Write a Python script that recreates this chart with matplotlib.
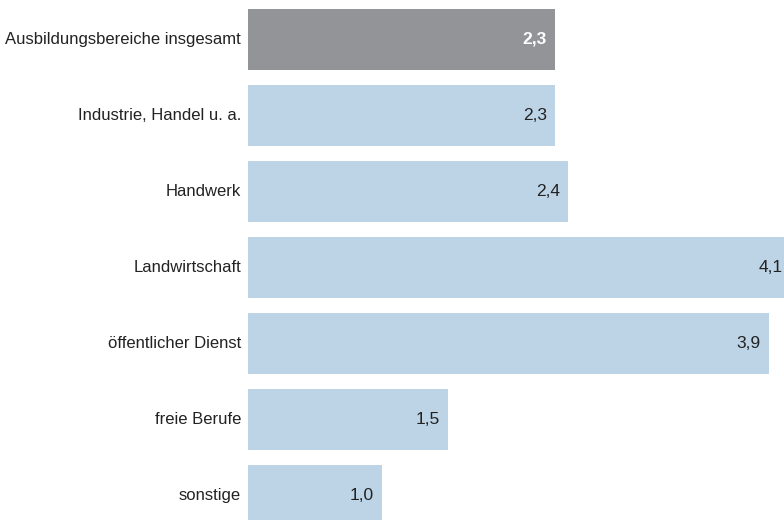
import matplotlib
matplotlib.use("Agg")
import matplotlib.pyplot as plt

# data
categories = [
    "Ausbildungsbereiche insgesamt",
    "Industrie, Handel u. a.",
    "Handwerk",
    "Landwirtschaft",
    "öffentlicher Dienst",
    "freie Berufe",
    "sonstige",
]
values = [2.3, 2.3, 2.4, 4.1, 3.9, 1.5, 1.0]
value_labels = ["2,3", "2,3", "2,4", "4,1", "3,9", "1,5", "1,0"]

plt.rcParams["font.family"] = ["Liberation Sans", "DejaVu Sans"]

W, H = 784, 520
fig = plt.figure(figsize=(W / 100, H / 100), dpi=100)
ax = fig.add_axes([248 / W, 0, 1 - 248 / W, 1])

px_per_unit = 133.5
colors = ["#939498"] + ["#bdd4e7"] * (len(values) - 1)
pos = list(range(len(values)))
ax.barh(pos, values, height=61 / 76, color=colors, align="center")

xmax = (W - 248) / px_per_unit
ax.set_xlim(0, xmax)
top = -0.4 - 9 / 76
ax.set_ylim(top + H / 76, top)
ax.axis("off")

offset = 8 / px_per_unit
for i, (v, lab, cat) in enumerate(zip(values, value_labels, categories)):
    first = i == 0
    # keep the label inside the figure when the bar runs past the edge
    x_lab = min(v - offset, xmax - 1.5 / px_per_unit)
    ax.text(x_lab, i, lab, ha="right", va="center", fontsize=12.5,
            color="white" if first else "#222222",
            fontweight="bold" if first else "normal")
    ax.text(-7 / px_per_unit, i, cat, ha="right", va="center", fontsize=12,
            color="#222222", clip_on=False)

fig.savefig("out.png", dpi=100)
